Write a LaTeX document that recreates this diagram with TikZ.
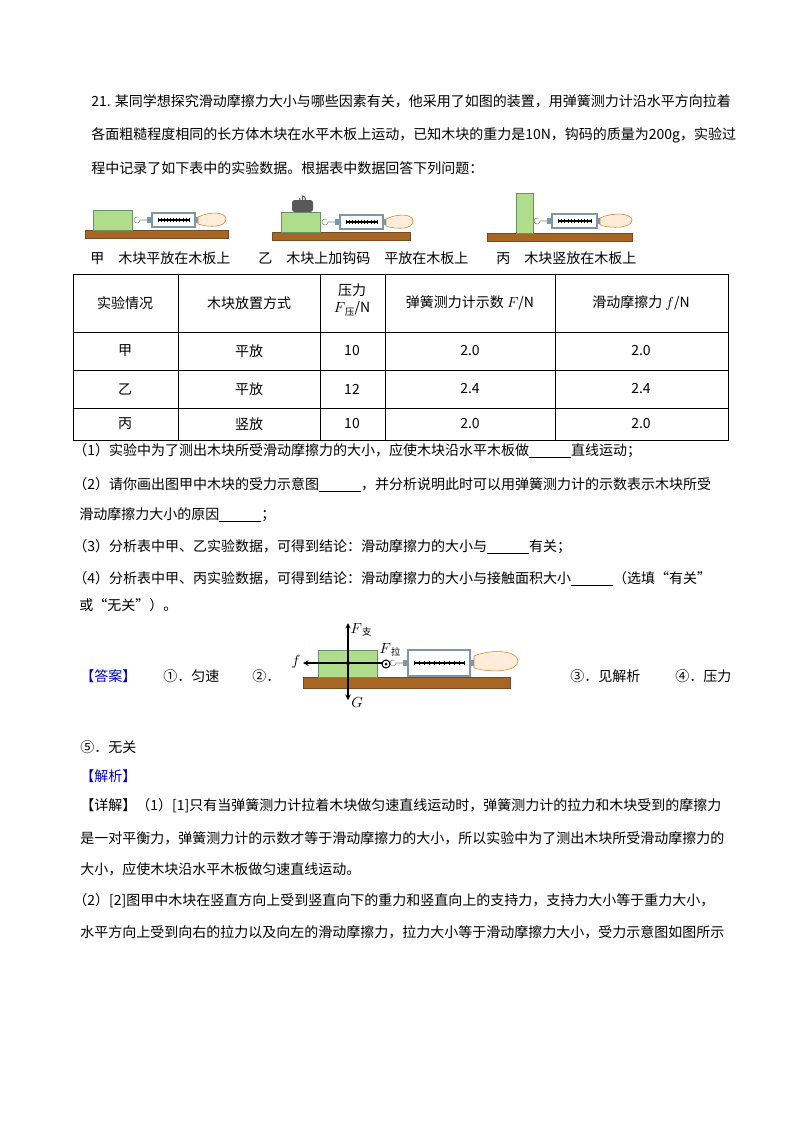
\documentclass[tikz,border=0pt]{standalone}
\usepackage{fontspec}
\setmainfont{Noto Sans CJK SC}
\definecolor{scl}{RGB}{125,150,170}
\begin{document}
\begin{tikzpicture}[x=0.75pt,y=-0.75pt,
 txt/.style={anchor=west,inner sep=0,font=\fontsize{10.5pt}{12pt}\selectfont},
 ctr/.style={inner sep=0,font=\fontsize{10.5pt}{12pt}\selectfont},
 board/.style={fill=brown!70!orange!80!black,draw=brown!60!black},
 blockst/.style={fill=green!40!olive!45!white,draw=green!30!black!60},
 hand/.style={fill=orange!15!white,draw=orange!30!brown},
 frc/.style={->,>=stealth,thick}]
\useasboundingbox (0,0) rectangle (800,1132);
\fill[white] (0,0) rectangle (800,1132);
\newcommand{\springscale}[4]{% x1 x2 ytop ybot
 \draw[scl,fill=white,line width=1.5pt] (#1,#3) rectangle (#2,#4);
 \draw[line width=1.6pt] ({#1+6},{(#3+#4)/2}) -- ({#2-6},{(#3+#4)/2});
 \foreach \k in {0,...,10}{\draw ({#1+6+\k*(#2-#1-12)/10},{(#3+#4)/2-2}) -- ++(0,4);}
 \fill[scl] ({#1-5},{(#3+#4)/2-3}) rectangle (#1,{(#3+#4)/2+3});
 \fill[scl] (#2,{(#3+#4)/2-3}) rectangle ({#2+4},{(#3+#4)/2+3});
 \draw[gray] ({#1-5},{(#3+#4)/2}) -- ({#1-12},{(#3+#4)/2}) arc(0:300:3);
}
\node[txt] (l1) at (91,101) {21. 某同学想探究滑动摩擦力大小与哪些因素有关，他采用了如图的装置，用弹簧测力计沿水平方向拉着};
\node[txt] (l2) at (91,135) {各面粗糙程度相同的长方体木块在水平木板上运动，已知木块的重力是10N，钩码的质量为200g，实验过};
\node[txt] (l3) at (91,168) {程中记录了如下表中的实验数据。根据表中数据回答下列问题：};
% fig jia
\draw[board] (85,230) rectangle (228,238);
\draw[blockst] (93,210) rectangle (132,230);
\springscale{152}{195}{213}{227}
\draw[hand] (198,217) .. controls (210,211) and (226,212) .. (226,219) .. controls (226,227) and (210,228) .. (198,224) -- cycle;
% fig yi
\draw[board] (272,232) rectangle (410,240);
\draw[blockst] (281,212) rectangle (320,232);
\fill[gray!70!black,rounded corners=2pt] (292,200) rectangle (313,212);
\draw[gray!70!black,thick] (302.5,200) -- (302.5,196) arc(-90:200:3);
\springscale{340}{383}{215}{229}
\draw[hand] (386,219) .. controls (398,213) and (413,214) .. (413,221) .. controls (413,229) and (398,230) .. (386,226) -- cycle;
% fig bing
\draw[board] (487,233) rectangle (632,241);
\draw[blockst] (516,193) rectangle (533,233);
\springscale{552}{597}{214}{228}
\draw[hand] (600,218) .. controls (612,212) and (632,213) .. (632,220) .. controls (632,228) and (612,229) .. (600,225) -- cycle;
\node[txt] (c1) at (90,258) {甲\quad 木块平放在木板上};
\node[txt] (c2) at (258,258) {乙\quad 木块上加钩码\quad 平放在木板上};
\node[txt] (c3) at (496,258) {丙\quad 木块竖放在木板上};
% table
\draw (73,274) rectangle (728,440);
\foreach \y in {332,370,408} \draw (73,\y) -- (728,\y);
\foreach \x in {178,320,385,555} \draw (\x,274) -- (\x,440);
\node[ctr] (h1) at (125,303) {实验情况};
\node[ctr] (h2) at (249,303) {木块放置方式};
\node[ctr] (h3a) at (352,290) {压力};
\node[ctr] (h3b) at (352,309) {$F$\raisebox{-2pt}{\fontsize{7pt}{8pt}\selectfont 压}/N};
\node[ctr] (h4) at (470,303) {弹簧测力计示数 $F$/N};
\node[ctr] (h5) at (641,303) {滑动摩擦力 $f$/N};
\foreach \r/\y/\a/\b/\c/\d in {甲/351/平放/10/2.0/2.0, 乙/389/平放/12/2.4/2.4, 丙/424/竖放/10/2.0/2.0}{
 \node[ctr] at (125,\y) {\r};
 \node[ctr] at (249,\y) {\a};
 \node[ctr] at (352,\y) {\b};
 \node[ctr] at (470,\y) {\c};
 \node[ctr] at (641,\y) {\d};}
\node[txt] (q1) at (73,451) {（1）实验中为了测出木块所受滑动摩擦力的大小，应使木块沿水平木板做\underline{\hspace{3em}}直线运动；};
\node[txt] (q2) at (73,485) {（2）请你画出图甲中木块的受力示意图\underline{\hspace{3em}}，并分析说明此时可以用弹簧测力计的示数表示木块所受};
\node[txt] (q2b) at (79,515) {滑动摩擦力大小的原因\underline{\hspace{3em}}；};
\node[txt] (q3) at (73,547) {（3）分析表中甲、乙实验数据，可得到结论：滑动摩擦力的大小与\underline{\hspace{3em}}有关；};
\node[txt] (q4) at (73,579) {（4）分析表中甲、丙实验数据，可得到结论：滑动摩擦力的大小与接触面积大小\underline{\hspace{3em}}（选填“有关”};
\node[txt] (q4b) at (79,605) {或“无关”）。};
% answer
\node[txt,text=blue!70!black] (ans) at (80,676) {【答案】};
\node[txt] (a1) at (163,676) {①．匀速};
\node[txt] (a2) at (252,676) {②．};
\node[txt] (a3) at (570,676) {③．见解析};
\node[txt] (a4) at (675,676) {④．压力};
\draw[board] (303,677) rectangle (510,688);
\draw[blockst] (318,650) rectangle (377,677);
\springscale{408}{470}{650}{676}
\draw[hand] (474,656) .. controls (490,649) and (518,650) .. (518,661) .. controls (518,672) and (490,673) .. (474,668) -- cycle;
\coordinate (o) at (348,663);
\coordinate (fs) at (348,623);
\coordinate (fg) at (348,700);
\coordinate (ff) at (303,663);
\draw[frc] (o) -- (fs);
\draw[frc] (o) -- (fg);
\draw[frc] (o) -- (ff);
\draw[thick] (o) -- (382,663);
\fill (o) circle (2);
\draw[thick] (386,664) circle (4); \fill (386,664) circle(1.5);
\node[ctr] (lfs) at (361,630) {$F$\raisebox{-2pt}{\fontsize{7pt}{8pt}\selectfont 支}};
\node[ctr] (lg) at (357,703) {$G$};
\node[ctr] (lf) at (296,662) {$f$};
\node[ctr] (lfl) at (390,650) {$F$\raisebox{-2pt}{\fontsize{7pt}{8pt}\selectfont 拉}};
\node[txt] (a5) at (80,747) {⑤．无关};
\node[txt,text=blue!70!black] (jx) at (80,776) {【解析】};
\node[txt] (d1) at (80,806) {【详解】（1）[1]只有当弹簧测力计拉着木块做匀速直线运动时，弹簧测力计的拉力和木块受到的摩擦力};
\node[txt] (d2) at (80,838) {是一对平衡力，弹簧测力计的示数才等于滑动摩擦力的大小，所以实验中为了测出木块所受滑动摩擦力的};
\node[txt] (d3) at (80,869) {大小，应使木块沿水平木板做匀速直线运动。};
\node[txt] (d4) at (73,901) {（2）[2]图甲中木块在竖直方向上受到竖直向下的重力和竖直向上的支持力，支持力大小等于重力大小，};
\node[txt] (d5) at (80,932) {水平方向上受到向右的拉力以及向左的滑动摩擦力，拉力大小等于滑动摩擦力大小，受力示意图如图所示};
\end{tikzpicture}
\end{document}
